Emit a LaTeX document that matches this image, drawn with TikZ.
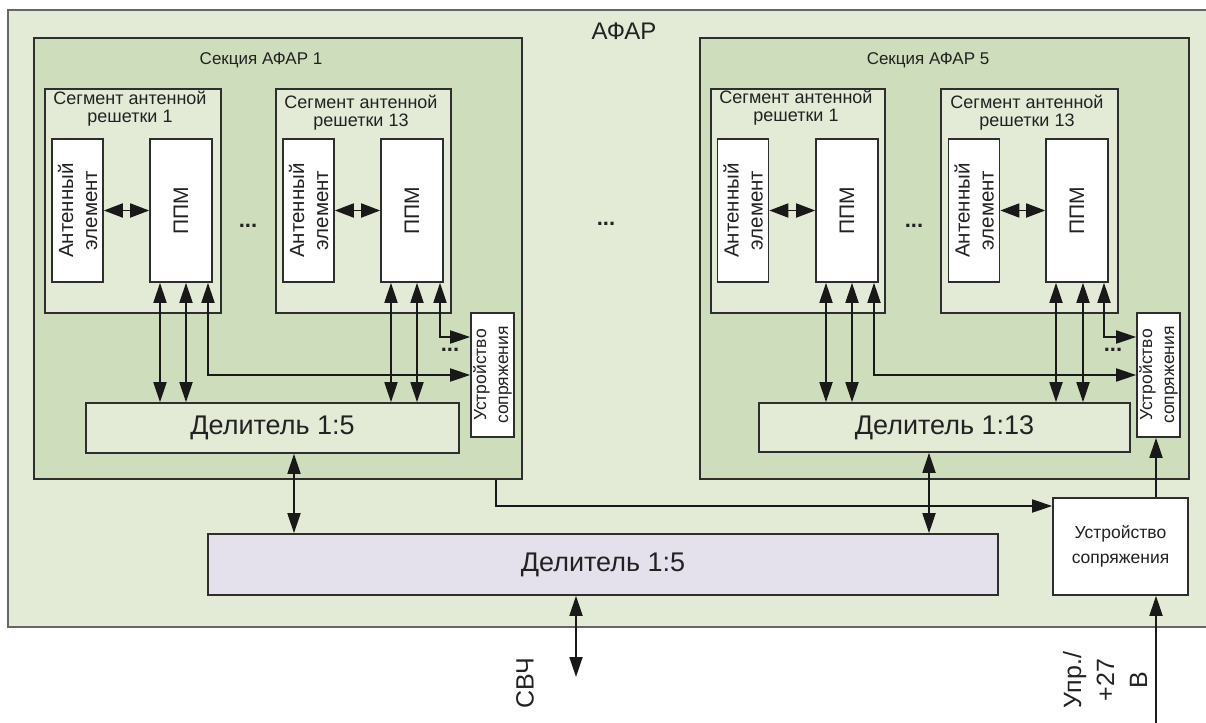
\documentclass[tikz,border=0pt]{standalone}
\usepackage{fontspec}
\setmainfont{Liberation Sans}
\usetikzlibrary{arrows.meta,calc}

\definecolor{outerfill}{HTML}{E3EBD7}
\definecolor{secfill}{HTML}{CEDDBB}
\definecolor{segfill}{HTML}{E3EBD7}
\definecolor{mainfill}{HTML}{E5E1EC}
\definecolor{edge}{HTML}{2E2E2E}
\definecolor{ink}{HTML}{222222}

\newcommand\setfs[2]{\fontsize{#1}{#2}\selectfont}

\tikzset{
  blk/.style={draw=edge, line width=1.6pt, inner sep=0pt, align=center, text=ink},
  sect/.style={blk, line width=2pt, fill=secfill},
  seg/.style={blk, fill=segfill},
  cell/.style={blk, fill=white},
  lbl/.style={inner sep=0pt, align=center, text=ink},
  wire/.style={draw=black!90, line width=1.8pt},
  link/.style={wire, -{Triangle[length=20pt,width=13pt]}},
  both/.style={wire, {Triangle[length=20pt,width=13pt]}-{Triangle[length=20pt,width=13pt]}},
  pair/.style={wire, {Triangle[length=19pt,width=14pt]}-{Triangle[length=19pt,width=14pt]}},
  dotrow/.style={lbl, font=\setfs{22}{24}\bfseries},
}

\begin{document}
\begin{tikzpicture}[x=1pt,y=-1pt]
\clip (0,0) rectangle (1206,722);
\fill[white] (0,0) rectangle (1206,722);

% whole array
\node[blk, draw=black!60, line width=2.5pt, fill=outerfill,
      minimum width=1207pt, minimum height=617pt] (afar) at (611.5,318.5) {};
\node[lbl, font=\setfs{24}{26}] (afart) at (624,31) {АФАР};

% sections
\node[sect, minimum width=488pt, minimum height=441pt] (sec1) at (278,258.5) {};
\node[sect, minimum width=489pt, minimum height=441pt] (sec5) at (944.5,258.5) {};
\node[lbl, font=\setfs{17}{19}] (sec1t) at (261,60) {Секция АФАР 1};
\node[lbl, font=\setfs{17}{19}] (sec5t) at (928,60) {Секция АФАР 5};

% antenna segments
\node[seg, minimum width=176pt, minimum height=224pt] (seg11)  at (133,201) {};
\node[seg, minimum width=175pt, minimum height=224pt] (seg113) at (363.5,201) {};
\node[seg, minimum width=174pt, minimum height=224pt] (seg51)  at (798,201) {};
\node[seg, minimum width=177pt, minimum height=224pt] (seg513) at (1029.5,201) {};
\node[lbl, font=\setfs{18}{18}] (seg11t)  at (130,109) {Сегмент антенной\\решетки 1};
\node[lbl, font=\setfs{18}{18}] (seg113t) at (361,113) {Сегмент антенной\\решетки 13};
\node[lbl, font=\setfs{18}{18}] (seg51t)  at (796,108) {Сегмент антенной\\решетки 1};
\node[lbl, font=\setfs{18}{18}] (seg513t) at (1027,113) {Сегмент антенной\\решетки 13};

% antenna elements and transceiver modules
\foreach \n/\ax/\px in {11/77.5/181, 113/308.5/412, 51/743/847, 513/974/1077}{
  \node[cell, minimum width=51pt, minimum height=143pt] (ae\n) at (\ax,210.5) {};
  \node[cell, minimum width=62pt, minimum height=143pt] (ppm\n) at (\px,210.5) {};
  \node[lbl, rotate=90, font=\setfs{20.5}{24}] (ae\n t) at (ae\n) {Антенный\\элемент};
  \node[lbl, rotate=90, font=\setfs{21}{22}] (ppm\n t) at (ppm\n) {ППМ};
  \draw[pair] (ae\n.east) -- (ppm\n.west);
}

% ellipses
\node[dotrow] (dots1) at (248,226) {...};
\node[dotrow] (dots5) at (914,226) {...};
\node[dotrow] (dotsm) at (606,224) {...};
\node[dotrow] (dotsu1) at (450,350) {...};
\node[dotrow] (dotsu5) at (1113,350) {...};

% interface units inside sections
\node[cell, minimum width=43pt, minimum height=124pt] (us1) at (492.5,375) {};
\node[cell, minimum width=43pt, minimum height=124pt] (us5) at (1158.5,375) {};
\node[lbl, rotate=90, font=\setfs{17.5}{22}] (us1t) at (us1) {Устройство\\сопряжения};
\node[lbl, rotate=90, font=\setfs{17.5}{22}] (us5t) at (us5) {Устройство\\сопряжения};

% section dividers
\node[seg, minimum width=373pt, minimum height=50pt, font=\setfs{27}{29}] (del1) at (272.5,428) {Делитель 1:5};
\node[seg, minimum width=371pt, minimum height=49pt, font=\setfs{27}{29}] (del5) at (944.5,427.5) {Делитель 1:13};

% main divider and interface unit
\node[blk, fill=mainfill, minimum width=790pt, minimum height=61pt, font=\setfs{27}{29}] (mdel) at (603,564.5) {Делитель 1:5};
\node[cell, minimum width=135pt, minimum height=97pt, font=\setfs{17.5}{25}] (mus) at (1120.5,546.5) {Устройство\\сопряжения};

% module links, section 1
\draw[both] ([xshift=-21pt]ppm11.south) -- ([xshift=-21pt]ppm11.south |- del1.north);
\draw[both] ([xshift=5pt]ppm11.south) -- ([xshift=5pt]ppm11.south |- del1.north);
\draw[both] ([xshift=27pt]ppm11.south) |- (us1.west);
\draw[both] ([xshift=-21pt]ppm113.south) -- ([xshift=-21pt]ppm113.south |- del1.north);
\draw[both] ([xshift=5pt]ppm113.south) -- ([xshift=5pt]ppm113.south |- del1.north);
\draw[both] ([xshift=28pt]ppm113.south) |- ([yshift=38pt]us1.west);

% module links, section 5
\draw[both] ([xshift=-21pt]ppm51.south) -- ([xshift=-21pt]ppm51.south |- del5.north);
\draw[both] ([xshift=5pt]ppm51.south) -- ([xshift=5pt]ppm51.south |- del5.north);
\draw[both] ([xshift=27pt]ppm51.south) |- (us5.west);
\draw[both] ([xshift=-21pt]ppm513.south) -- ([xshift=-21pt]ppm513.south |- del5.north);
\draw[both] ([xshift=6pt]ppm513.south) -- ([xshift=6pt]ppm513.south |- del5.north);
\draw[both] ([xshift=27pt]ppm513.south) |- ([yshift=38pt]us5.west);

% section dividers to main divider
\draw[both] ([xshift=21.5pt]del1.south) -- ([xshift=21.5pt]del1.south |- mdel.north);
\draw[both] ([xshift=-15.5pt]del5.south) -- ([xshift=-15.5pt]del5.south |- mdel.north);

% control path
\draw[link] ([xshift=218pt]sec1.south) |- ([yshift=40.5pt]mus.west);
\draw[link] ([xshift=35.5pt]mus.north) -- ([xshift=35.5pt]mus.north |- us5.south);
\coordinate (ctl) at (1156,730);
\draw[link] (ctl) -- (ctl |- mus.south);

% microwave port
\coordinate (rfout) at (576,677);
\draw[both] ([xshift=-27pt]mdel.south) -- (rfout);

% external labels
\node[lbl, rotate=90, font=\setfs{25}{27}] (rft) at (525,683) {СВЧ};
\node[lbl, rotate=90, font=\setfs{25}{33}] (ctlt) at (1105,680) {Упр./\\+27\\В};
\end{tikzpicture}
\end{document}
